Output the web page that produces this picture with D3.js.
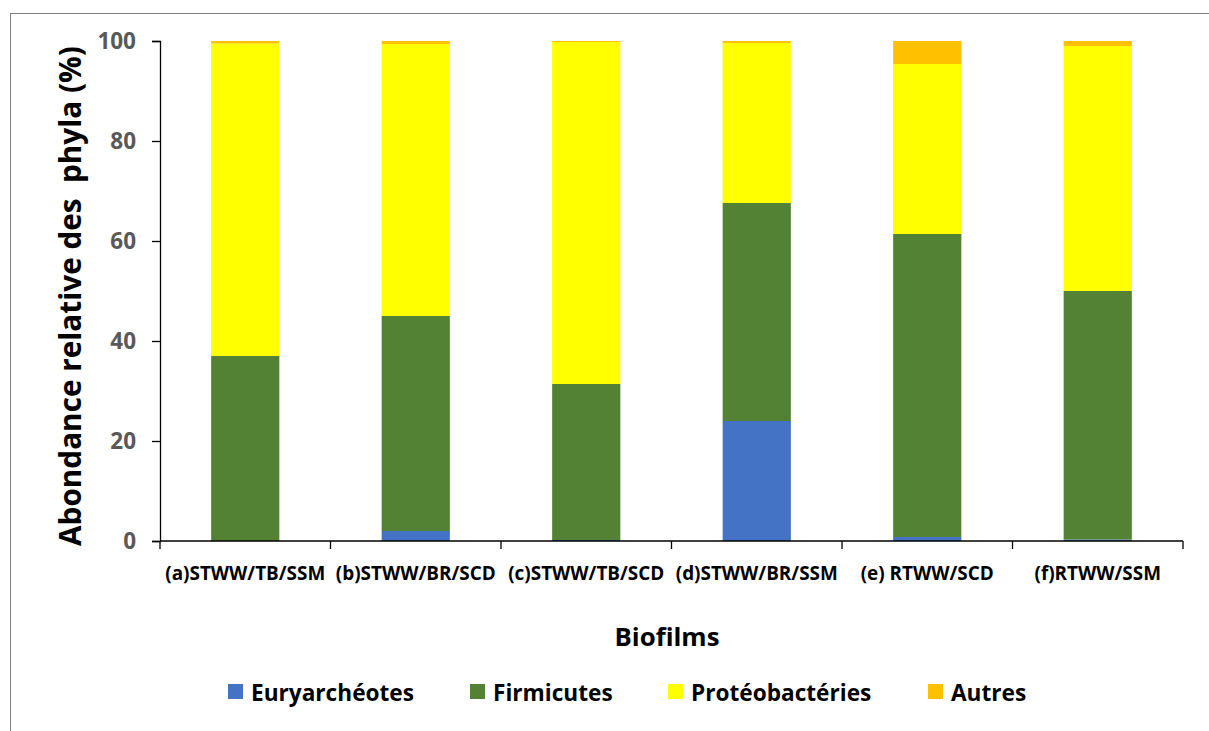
<!DOCTYPE html>
<html><head><meta charset="utf-8">
<script src="https://cdn.jsdelivr.net/npm/d3@7"></script>
<style>body{margin:0;background:#fff}svg{display:block}text{font-family:"Open Sans",Lato,sans-serif;font-weight:700}</style>
</head><body><svg id="c" width="1209" height="731"></svg>
<script>
const categories = ["(a)STWW/TB/SSM","(b)STWW/BR/SCD","(c)STWW/TB/SCD","(d)STWW/BR/SSM","(e) RTWW/SCD","(f)RTWW/SSM"];
const seriesNames = ["Euryarchéotes","Firmicutes","Protéobactéries","Autres"];
const euryarcheotes = [0, 2, 0.2, 24, 0.8, 0.3];
const firmicutes = [37, 43, 31.2, 43.6, 60.6, 49.7];
const proteobacteries = [62.5, 54.4, 68.4, 32, 34, 49];
const autres = [0.5, 0.6, 0.2, 0.4, 4.6, 1.0];
const yTicks = [0, 20, 40, 60, 80, 100];
const colors = ["#4472C4","#548235","#FFFF00","#FFC000"];

const svg = d3.select("#c");
svg.append("rect").attr("x",10.5).attr("y",13.5).attr("width",1400).attr("height",1000)
  .attr("fill","none").attr("stroke","#7f7f7f").attr("stroke-width",1);

const pL=160, pR=1183, pT=41, pB=541;
const x = d3.scaleBand().domain(categories).range([pL,pR]).paddingInner(0.6).paddingOuter(0.3);
const y = d3.scaleLinear().domain([0,100]).range([pB,pT]);

// scale the font size of a selection so that its first element spans a target width
function fitGroup(sel, target){
  const first = sel.node();
  const fs = parseFloat(first.getAttribute("font-size"));
  const w = first.getComputedTextLength();
  if (w>0) sel.attr("font-size", (fs*target/w).toFixed(2));
}

const table = categories.map((c,i)=>({cat:c,"Euryarchéotes":euryarcheotes[i],"Firmicutes":firmicutes[i],"Protéobactéries":proteobacteries[i],"Autres":autres[i]}));
const stacked = d3.stack().keys(seriesNames)(table);

svg.append("g").selectAll("g").data(stacked).join("g").attr("fill",(d,i)=>colors[i])
  .selectAll("rect").data(d=>d).join("rect")
  .attr("x",d=>x(d.data.cat)).attr("width",x.bandwidth())
  .attr("y",d=>y(d[1])).attr("height",d=>Math.max(0,y(d[0])-y(d[1])));

// y axis
const ya = svg.append("g").attr("transform",`translate(${pL},0)`)
  .call(d3.axisLeft(y).tickValues(yTicks).tickSize(8).tickPadding(16));
ya.select(".domain").attr("stroke","#000").attr("stroke-width",1.3);
ya.selectAll(".tick line").attr("stroke","#000").attr("stroke-width",1.3);
ya.selectAll(".tick text").attr("font-size",22.5).attr("fill","#595959").attr("font-family","'Open Sans',sans-serif").attr("font-weight",700);

// x axis
const xa = svg.append("g").attr("transform",`translate(0,${pB})`);
xa.append("line").attr("x1",pL).attr("x2",pR).attr("stroke","#000").attr("stroke-width",1.3);
const bounds = d3.range(categories.length+1).map(i=>pL + i*(pR-pL)/categories.length);
xa.selectAll("line.t").data(bounds).join("line").attr("class","t")
  .attr("x1",d=>d).attr("x2",d=>d).attr("y1",0).attr("y2",8).attr("stroke","#000").attr("stroke-width",1.3);
const catText = xa.selectAll("text").data(categories).join("text")
  .attr("x",d=>x(d)+x.bandwidth()/2).attr("y",32).attr("text-anchor","middle").attr("dominant-baseline","central")
  .attr("font-size",16).attr("fill","#000").text(d=>d);
fitGroup(catText, 160);

// titles
const yt = svg.append("text").attr("transform","translate(69,296) rotate(-90)").attr("text-anchor","middle").attr("dominant-baseline","central")
  .attr("font-size",26).attr("fill","#000").style("white-space","pre").text("Abondance relative des  phyla (%)");
fitGroup(yt, 500);
const xt = svg.append("text").attr("x",667).attr("y",636).attr("text-anchor","middle").attr("dominant-baseline","central").attr("font-size",24).attr("fill","#000").text("Biofilms");
fitGroup(xt, 105);

// legend
const legX = [228, 470, 668, 928];
const lg = svg.append("g").selectAll("g").data(seriesNames).join("g")
  .attr("transform",(d,i)=>`translate(${legX[i]},684)`);
lg.append("rect").attr("width",15).attr("height",15).attr("fill",(d,i)=>colors[i]);
const lt = lg.append("text").attr("x",23).attr("y",8).attr("dominant-baseline","central").attr("font-size",21).attr("fill","#000").text(d=>d);
fitGroup(lt, 163);
</script></body></html>
